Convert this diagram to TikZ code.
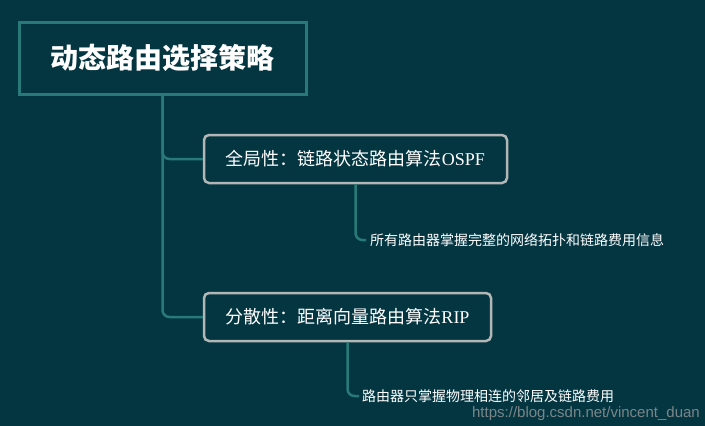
\documentclass[tikz,border=0pt]{standalone}
\usepackage{fontspec}
\setmainfont{Liberation Serif}
\newfontfamily\cjk{Noto Sans CJK SC}
\newfontfamily\wmfont{Liberation Sans}
\definecolor{bgteal}{RGB}{4,54,66}
\definecolor{lineteal}{RGB}{40,122,120}
\definecolor{boxgray}{RGB}{178,182,180}

\begin{document}
\begin{tikzpicture}[x=1pt,y=-1pt,
    rootbox/.style={draw=lineteal,line width=3pt,minimum width=287pt,minimum height=72pt,text=white,font=\cjk\bfseries\fontsize{28}{32}\selectfont},
    topicbox/.style={draw=boxgray,line width=2.5pt,rounded corners=5pt,minimum height=48pt,text=white,font=\fontsize{18}{21}\selectfont},
    leaftext/.style={anchor=west,inner sep=0pt,text=white,font=\cjk\fontsize{14}{16}\selectfont},
    branch/.style={draw=lineteal,line width=2.5pt,rounded corners=7pt}]
				      \fill[bgteal] (0,0) rectangle (705,426);
				      \node[rootbox] (root) at (162.5,58) {动态路由选择策略};
				      \node[topicbox,minimum width=303pt] (global) at (355.5,159) {{\cjk 全局性：链路状态路由算法}OSPF};
				      \node[topicbox,minimum width=287pt] (dist) at (347.5,317) {{\cjk 分散性：距离向量路由算法}RIP};
				      \node[leaftext] (globalinfo) at (370,240) {所有路由器掌握完整的网络拓扑和链路费用信息};
				      \node[leaftext] (distinfo) at (362,396) {路由器只掌握物理相连的邻居及链路费用};
				      \draw[branch] (root.south) |- (global.west);
				      \draw[branch] (root.south) |- (dist.west);
				      \draw[branch] (global.south) |- ([xshift=-4pt]globalinfo.west);
				      \draw[branch] (dist.south) |- ([xshift=-3pt]distinfo.west);
				      \node[anchor=east,inner sep=0pt,text=gray!80,opacity=0.8,font=\wmfont\fontsize{15}{17}\selectfont] (mark) at (700,414) {https://blog.csdn.net/vincent\_duan};
			      \end{tikzpicture}
\end{document}
